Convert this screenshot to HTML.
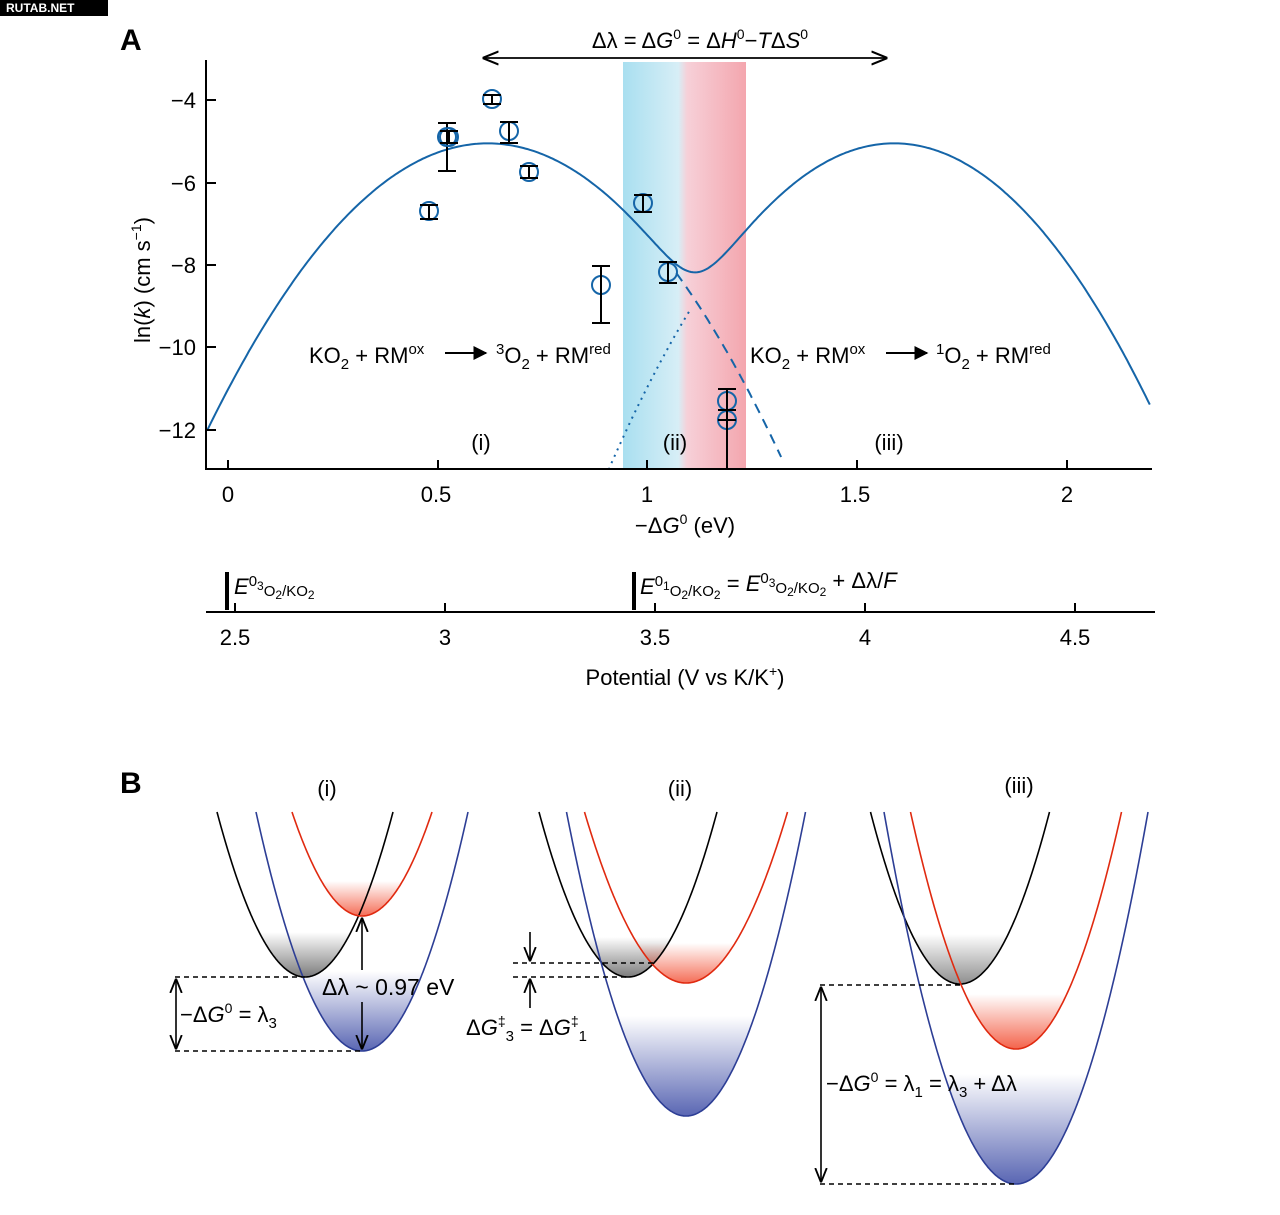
<!DOCTYPE html>
<html><head><meta charset="utf-8"><style>
body{margin:0;background:#fff;}
svg{display:block;font-family:"Liberation Sans",sans-serif;}
</style></head><body>
<svg id="s" width="1280" height="1215" viewBox="0 0 1280 1215" xmlns="http://www.w3.org/2000/svg">
<defs>
<linearGradient id="bandB" x1="0" x2="1" y1="0" y2="0">
<stop offset="0" stop-color="#a9dff0"/><stop offset="0.45" stop-color="#d7eef6"/><stop offset="0.52" stop-color="#f6d0d8"/><stop offset="1" stop-color="#f4a6ae"/></linearGradient>
<marker id="ah" viewBox="0 0 10 10" refX="9" refY="5" markerWidth="9" markerHeight="9" orient="auto-start-reverse"><path d="M0,1 L10,5 L0,9" fill="none" stroke="#000" stroke-width="1.3"/></marker>
<marker id="af" viewBox="0 0 10 10" refX="9" refY="5" markerWidth="7" markerHeight="7" orient="auto-start-reverse"><path d="M0,0 L10,5 L0,10 Z" fill="#000"/></marker>
</defs>
<rect width="1280" height="1215" fill="#fff"/>
<rect x="0" y="0" width="108" height="16" fill="#000"/>
<text x="6" y="12" font-size="12" font-weight="bold" fill="#fff">RUTAB.NET</text>
<text x="120" y="50" font-size="30" font-weight="bold">A</text>
<text x="120" y="793" font-size="30" font-weight="bold">B</text>
<rect x="623" y="62" width="123" height="407" fill="url(#bandB)"/>
<g id="plotA"></g>
<g stroke="#000" stroke-width="2" fill="none">
<path d="M206,60 V469 H1152"/>
<path d="M206,100h10M206,183h10M206,265h10M206,347h10M206,430h10"/>
<path d="M228,469v-9M438,469v-9M647,469v-9M857,469v-9M1067,469v-9"/>
<path d="M206,612 H1155"/>
<path d="M235,612v-9M445,612v-9M655,612v-9M865,612v-9M1075,612v-9"/>
<path d="M484,58 H886" marker-start="url(#ah)" marker-end="url(#ah)" stroke-width="1.8"/>
</g>
<rect x="225" y="572" width="4" height="38" fill="#000"/>
<rect x="632" y="572" width="4" height="38" fill="#000"/>
<g font-size="22" text-anchor="end">
<text x="196" y="108">−4</text><text x="196" y="191">−6</text><text x="196" y="273">−8</text><text x="196" y="355">−10</text><text x="196" y="438">−12</text>
</g>
<g font-size="22" text-anchor="middle">
<text x="228" y="502">0</text><text x="436" y="502">0.5</text><text x="647" y="502">1</text><text x="855" y="502">1.5</text><text x="1067" y="502">2</text>
<text x="685" y="533">−Δ<tspan font-style="italic">G</tspan><tspan font-size="14" dy="-9">0</tspan><tspan dy="9"> (eV)</tspan></text>
<text x="235" y="645">2.5</text><text x="445" y="645">3</text><text x="655" y="645">3.5</text><text x="865" y="645">4</text><text x="1075" y="645">4.5</text>
<text x="685" y="685">Potential (V vs K/K<tspan font-size="14" dy="-9">+</tspan><tspan dy="9">)</tspan></text>
<text x="700" y="48">Δλ = Δ<tspan font-style="italic">G</tspan><tspan font-size="14" dy="-9">0</tspan><tspan dy="9"> = Δ</tspan><tspan font-style="italic">H</tspan><tspan font-size="14" dy="-9">0</tspan><tspan dy="9">−</tspan><tspan font-style="italic">T</tspan>Δ<tspan font-style="italic">S</tspan><tspan font-size="14" dy="-9">0</tspan></text>
<text x="481" y="450">(i)</text><text x="675" y="450">(ii)</text><text x="889" y="450">(iii)</text>
<text x="327" y="796">(i)</text><text x="680" y="796">(ii)</text><text x="1019" y="793">(iii)</text>
</g>
<text transform="translate(150,280) rotate(-90)" font-size="22" text-anchor="middle">ln(<tspan font-style="italic">k</tspan>)  (cm s<tspan font-size="14" dy="-9">−1</tspan><tspan dy="9">)</tspan></text>
<g font-size="22">
<text x="309" y="363">KO<tspan font-size="15" dy="6">2</tspan><tspan dy="-6"> + RM</tspan><tspan font-size="15" dy="-9">ox</tspan></text>
<text x="496" y="363"><tspan font-size="15" dy="-9">3</tspan><tspan dy="9">O</tspan><tspan font-size="15" dy="6">2</tspan><tspan dy="-6"> + RM</tspan><tspan font-size="15" dy="-9">red</tspan></text>
<text x="750" y="363">KO<tspan font-size="15" dy="6">2</tspan><tspan dy="-6"> + RM</tspan><tspan font-size="15" dy="-9">ox</tspan></text>
<text x="936" y="363"><tspan font-size="15" dy="-9">1</tspan><tspan dy="9">O</tspan><tspan font-size="15" dy="6">2</tspan><tspan dy="-6"> + RM</tspan><tspan font-size="15" dy="-9">red</tspan></text>
<text x="234" y="594"><tspan font-style="italic">E</tspan><tspan font-size="15" dy="-8">0</tspan><tspan font-size="12" dy="4">3</tspan><tspan font-size="15" dy="6">O</tspan><tspan font-size="12" dy="3">2</tspan><tspan font-size="15" dy="-3">/KO</tspan><tspan font-size="12" dy="3">2</tspan></text>
<text x="640" y="594"><tspan font-style="italic">E</tspan><tspan font-size="15" dy="-8">0</tspan><tspan font-size="12" dy="4">1</tspan><tspan font-size="15" dy="6">O</tspan><tspan font-size="12" dy="3">2</tspan><tspan font-size="15" dy="-3">/KO</tspan><tspan font-size="12" dy="3">2</tspan><tspan dy="-8"> = </tspan><tspan font-style="italic">E</tspan><tspan font-size="15" dy="-8">0</tspan><tspan font-size="12" dy="4">3</tspan><tspan font-size="15" dy="6">O</tspan><tspan font-size="12" dy="3">2</tspan><tspan font-size="15" dy="-3">/KO</tspan><tspan font-size="12" dy="3">2</tspan><tspan dy="-8"> + Δλ/</tspan><tspan font-style="italic">F</tspan></text>
</g>
<g stroke="#000" stroke-width="2">
<path d="M445,353 H486" marker-end="url(#af)"/>
<path d="M886,353 H927" marker-end="url(#af)"/>
</g>
<g id="plotB"></g>
<g stroke="#000" stroke-width="1.5" stroke-dasharray="5,4" fill="none">
<path d="M175,977 H305 M175,1051 H362"/>
<path d="M513,963 H655 M513,977 H628"/>
<path d="M820,985 H960 M820,1184 H1016"/>
</g>
<g stroke="#000" stroke-width="1.6" fill="none">
<path d="M176,980 V1048" marker-start="url(#ah)" marker-end="url(#ah)"/>
<path d="M362,970 V919" marker-end="url(#ah)"/>
<path d="M362,1002 V1048" marker-end="url(#ah)"/>
<path d="M530,932 V960" marker-end="url(#ah)"/>
<path d="M530,1008 V980" marker-end="url(#ah)"/>
<path d="M821,988 V1181" marker-start="url(#ah)" marker-end="url(#ah)"/>
</g>
<g font-size="22">
<text x="180" y="1022">−Δ<tspan font-style="italic">G</tspan><tspan font-size="14" dy="-9">0</tspan><tspan dy="9"> = λ</tspan><tspan font-size="15" dy="6">3</tspan></text>
<text x="322" y="995" font-size="23">Δλ ~ 0.97 eV</text>
<text x="466" y="1035">Δ<tspan font-style="italic">G</tspan><tspan font-size="14" dy="-9">‡</tspan><tspan font-size="15" dy="15">3</tspan><tspan dy="-6"> = Δ</tspan><tspan font-style="italic">G</tspan><tspan font-size="14" dy="-9">‡</tspan><tspan font-size="15" dy="15">1</tspan></text>
<text x="826" y="1091">−Δ<tspan font-style="italic">G</tspan><tspan font-size="14" dy="-9">0</tspan><tspan dy="9"> = λ</tspan><tspan font-size="15" dy="6">1</tspan><tspan dy="-6"> = λ</tspan><tspan font-size="15" dy="6">3</tspan><tspan dy="-6"> + Δλ</tspan></text>
</g>
</svg>
<script>
var NS="http://www.w3.org/2000/svg";
function el(p,t,a){var e=document.createElementNS(NS,t);for(var k in a)e.setAttribute(k,a[k]);p.appendChild(e);return e;}
var A=document.getElementById("plotA");
function px(x){return 228+x*419;}
function py2(v){return 100-(v+4)*41.3;}
var f1=function(x){return -5.05-15.5*(x-0.62)*(x-0.62);},f2=function(x){return -5.05-17*(x-1.59)*(x-1.59);};
var d="",dd="",dt="";
for(var x=-0.05;x<=2.2001;x+=0.005){var v=Math.log(Math.exp(f1(x))+Math.exp(f2(x)));d+=(d?"L":"M")+px(x).toFixed(1)+","+py2(v).toFixed(1);}
for(var x=1.07;x<=1.32;x+=0.005){var v=f1(x);if(v<-13)break;dd+=(dd?"L":"M")+px(x).toFixed(1)+","+py2(v).toFixed(1);}
for(var x=1.1;x>=0.85;x-=0.005){var v=f2(x);if(v<-13)break;dt+=(dt?"L":"M")+px(x).toFixed(1)+","+py2(v).toFixed(1);}
el(A,"path",{d:d,fill:"none",stroke:"#1565a8","stroke-width":2});
el(A,"path",{d:dd,fill:"none",stroke:"#1565a8","stroke-width":2,"stroke-dasharray":"10,7"});
el(A,"path",{d:dt,fill:"none",stroke:"#1565a8","stroke-width":2,"stroke-dasharray":"2,5"});
var pts=[[429,211,205,219],[447,137,123,171],[449,137,131,143],[492,99,95,104],[509,131,122,143],[529,172,166,178],[601,285,266,323],[643,203,195,212],[668,272,262,283],[727,401,389,410],[727,420,410,420]];
pts.forEach(function(p){el(A,"circle",{cx:p[0],cy:p[1],r:9,fill:"none",stroke:"#1565a8","stroke-width":2});
el(A,"path",{d:"M"+(p[0]-9)+","+p[2]+"h18M"+p[0]+","+p[2]+"V"+p[3]+"M"+(p[0]-9)+","+p[3]+"h18",stroke:"#000","stroke-width":2,fill:"none"});});
el(A,"path",{d:"M727,389V469",stroke:"#000","stroke-width":2});
var B=document.getElementById("plotB");var gid=0;var defs=document.querySelector("defs");
function par(vx,vy,xl,xr,col,fillc,fh,op){
 var top=812,hw=(xr-xl)/2,k=(vy-top)/(hw*hw);
 var s="";for(var x=vx-hw-5;x<=vx+hw+5;x+=1){var y=vy-k*(x-vx)*(x-vx);if(y<top)continue;s+=(s?"L":"M")+x.toFixed(1)+","+y.toFixed(1);}
 var id="g"+(gid++);var g=el(defs,"linearGradient",{id:id,x1:0,x2:0,y1:vy-fh,y2:vy,gradientUnits:"userSpaceOnUse"});
 el(g,"stop",{offset:0,"stop-color":fillc,"stop-opacity":0});el(g,"stop",{offset:1,"stop-color":fillc,"stop-opacity":op});
 el(B,"path",{d:s+"Z",fill:"url(#"+id+")",stroke:"none"});
 return s;}
var curves=[
[305,977,217,393,"#000","#444",45,0.7],[362,916,290,430,"#e02a10","#f03010",35,0.7],[362,1051,256,468,"#2d3e95","#3040a0",80,0.8],
[628,977,540,718,"#000","#444",40,0.7],[686,983,597,800,"#e02a10","#f03010",40,0.7],[686,1116,567,806,"#2d3e95","#3040a0",100,0.8],
[960,984,870,1049,"#000","#444",50,0.6],[1016,1049,910,1121,"#e02a10","#f03010",55,0.75],[1016,1184,883,1147,"#2d3e95","#3040a0",110,0.8]];
var paths=curves.map(function(c){return par.apply(null,c);});
curves.forEach(function(c,i){el(B,"path",{d:paths[i],fill:"none",stroke:c[4],"stroke-width":1.6});});
</script>
</body></html>
